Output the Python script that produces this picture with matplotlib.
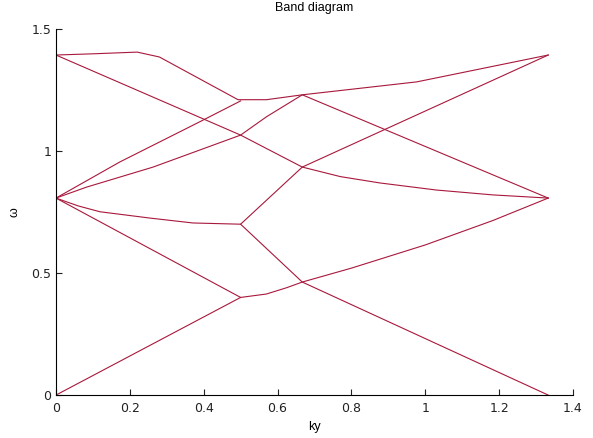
import matplotlib
matplotlib.use("Agg")
import matplotlib.pyplot as plt

# band data (ky, omega)
band1_k = [0, 0.5, 0.57, 0.625, 0.667, 0.8, 1.0, 1.183, 1.333]
band1_w = [0, 0.40, 0.414, 0.44, 0.463, 0.52, 0.615, 0.715, 0.807]

band2_k = [0, 0.5]
band2_w = [0.807, 0.40]

band3_k = [0, 0.06, 0.119, 0.255, 0.371, 0.5, 0.667, 1.333]
band3_w = [0.807, 0.775, 0.751, 0.725, 0.705, 0.70, 0.463, 0]

band4_k = [0.5, 0.667, 1.333]
band4_w = [0.70, 0.934, 1.393]

band5_k = [0, 0.5, 0.667, 0.77, 0.877, 1.03, 1.183, 1.333]
band5_w = [1.393, 1.065, 0.934, 0.895, 0.869, 0.84, 0.82, 0.807]

band6_k = [0, 0.1, 0.22, 0.28, 0.493, 0.57, 0.667, 0.977, 1.333]
band6_w = [1.393, 1.398, 1.405, 1.385, 1.21, 1.21, 1.23, 1.283, 1.393]

band7_k = [0, 0.173, 0.39, 0.5]
band7_w = [0.807, 0.955, 1.12, 1.205]

band8_k = [0, 0.083, 0.263, 0.5, 0.57, 0.667, 1.333]
band8_w = [0.807, 0.852, 0.934, 1.065, 1.14, 1.23, 0.807]

bands = [(band1_k, band1_w), (band2_k, band2_w), (band3_k, band3_w),
         (band4_k, band4_w), (band5_k, band5_w), (band6_k, band6_w),
         (band7_k, band7_w), (band8_k, band8_w)]

xticks = [0, 0.2, 0.4, 0.6, 0.8, 1, 1.2, 1.4]
xtick_labels = ["0", "0.2", "0.4", "0.6", "0.8", "1", "1.2", "1.4"]
yticks = [0, 0.5, 1, 1.5]
ytick_labels = ["0", "0.5", "1", "1.5"]

plt.rcParams["font.family"] = ["Liberation Sans", "DejaVu Sans"]

fig = plt.figure(figsize=(5.93, 4.38), dpi=100)
ax = fig.add_axes([0.0944, 0.098, 0.8718, 0.836])

for k, w in bands:
    ax.plot(k, w, color="#a8183c", linewidth=0.8)

ax.set_xlim(0, 1.4)
ax.set_ylim(0, 1.5)
ax.set_xticks(xticks)
ax.set_xticklabels(xtick_labels, family="DejaVu Sans")
ax.set_yticks(yticks)
ax.set_yticklabels(ytick_labels, family="DejaVu Sans")
ax.tick_params(direction="in", length=4, labelsize=9, width=0.8, colors="#222222")
ax.tick_params(axis="x", pad=5)
ax.spines["top"].set_visible(False)
ax.spines["right"].set_visible(False)
ax.spines["left"].set_linewidth(0.8)
ax.spines["bottom"].set_linewidth(0.8)

ax.set_title("Band diagram", fontsize=9, pad=13)
ax.set_xlabel("ky", fontsize=9, labelpad=4)
ax.set_ylabel("ω", fontsize=9, labelpad=8)

fig.savefig("out.png", dpi=100)
